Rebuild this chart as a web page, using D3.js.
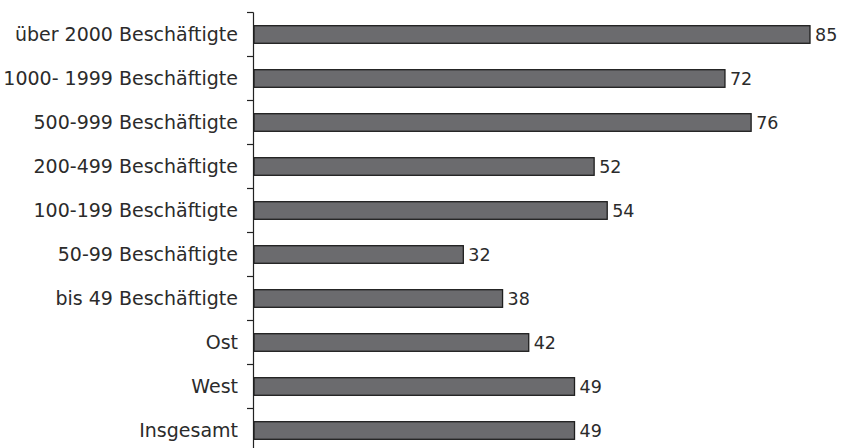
<!DOCTYPE html>
<html>
<head>
<meta charset="utf-8">
<script src="https://cdn.jsdelivr.net/npm/d3@7"></script>
<style>
  body { margin: 0; background: #fff; }
  text { font-family: "DejaVu Sans", "Open Sans", sans-serif; fill: #2b2b2b; }
</style>
</head>
<body>
<svg id="chart" width="841" height="448"></svg>
<script>
// daten
var categories = ["über 2000 Beschäftigte", "1000- 1999 Beschäftigte", "500-999 Beschäftigte",
  "200-499 Beschäftigte", "100-199 Beschäftigte", "50-99 Beschäftigte", "bis 49 Beschäftigte",
  "Ost", "West", "Insgesamt"];
var values = [85, 72, 76, 52, 54, 32, 38, 42, 49, 49];

var svg = d3.select("#chart");
var axisX = 254, plotTop = 12.5, step = 44;

var x = d3.scaleLinear().domain([0, 85]).range([axisX, 810]);
var y = d3.scaleBand().domain(categories)
  .range([plotTop, plotTop + step * categories.length])
  .paddingInner(0.6).paddingOuter(0.3);

// achse
svg.append("line")
  .attr("x1", axisX - 0.5).attr("x2", axisX - 0.5)
  .attr("y1", plotTop).attr("y2", 448)
  .attr("stroke", "#222").attr("stroke-width", 1.2);

// ticks zwischen den kategorien
for (var i = 0; i < categories.length; i++) {
  var ty = plotTop + i * step;
  svg.append("line")
    .attr("x1", axisX - 7).attr("x2", axisX - 0.5)
    .attr("y1", ty).attr("y2", ty)
    .attr("stroke", "#222").attr("stroke-width", 1.2);
}

var g = svg.selectAll("g.bar").data(categories).enter().append("g").attr("class", "bar");

g.append("rect")
  .attr("x", axisX)
  .attr("y", function (d) { return y(d); })
  .attr("width", function (d, i) { return x(values[i]) - axisX; })
  .attr("height", y.bandwidth())
  .attr("fill", "#6b6b6e")
  .attr("stroke", "#1e1e1e")
  .attr("stroke-width", 1.3);

g.append("text")
  .attr("x", function (d, i) { return x(values[i]) + 5; })
  .attr("y", function (d) { return y(d) + y.bandwidth() / 2; })
  .attr("dy", "0.36em")
  .attr("font-size", "17.5px")
  .text(function (d, i) { return values[i]; });

g.append("text")
  .attr("x", 238)
  .attr("y", function (d) { return y(d) + y.bandwidth() / 2; })
  .attr("dy", "0.36em")
  .attr("text-anchor", "end")
  .attr("font-size", "19px")
  .text(function (d) { return d; });
</script>
</body>
</html>
